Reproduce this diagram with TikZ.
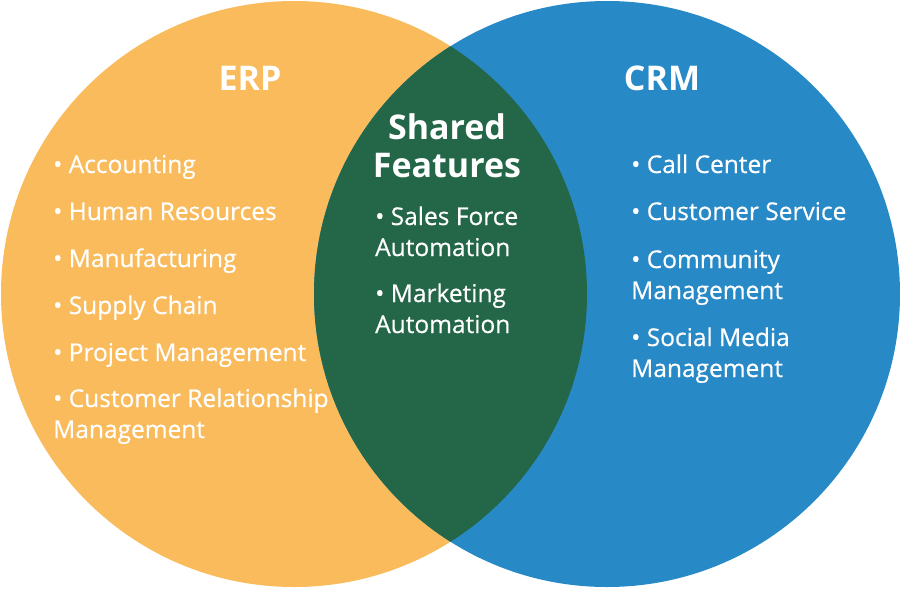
\documentclass[tikz,border=0pt]{standalone}
\usepackage{fontspec}
\setmainfont{Open Sans}
\newfontfamily\itemfont{Open Sans}[FakeBold=0.5]
\usetikzlibrary{positioning}
\definecolor{erporange}{HTML}{F9BB5B}
\definecolor{crmblue}{HTML}{2889C7}
\definecolor{sharedgreen}{HTML}{246648}

\begin{document}
\begin{tikzpicture}[
    x=1pt, y=-1pt,
    head/.style={text=white, font=\fontsize{34}{38}\selectfont\bfseries,
                 align=center, inner sep=0pt},
    item/.style={text=white, font=\itemfont\fontsize{24.5}{31}\selectfont,
                 align=left, anchor=base west, inner sep=0pt}
]
    \useasboundingbox[fill=white] (0,0) rectangle (900,600);

    % the two sets and their overlap
    \coordinate (L) at (294,294);
    \coordinate (R) at (607,294);
    \fill[erporange] (L) circle[radius=293pt];
    \fill[crmblue]   (R) circle[radius=293pt];
    \begin{scope}
        \clip (L) circle[radius=293pt];
        \fill[sharedgreen] (R) circle[radius=293pt];
    \end{scope}

    % headings
    \node[head] (erp)    at (250,78)  {ERP};
    \node[head] (crm)    at (662,78)  {CRM};
    \node[head] (shared) at (447,146) {Shared\\Features};

    % ERP features (base = baseline of the last line)
    \node[item] (acc)    at (53,173) {• Accounting};
    \node[item] (hr)     at (53,220) {• Human Resources};
    \node[item] (mfg)    at (53,267) {• Manufacturing};
    \node[item] (supply) at (53,314) {• Supply Chain};
    \node[item] (pm)     at (53,361) {• Project Management};
    \node[item] (crmgmt) at (53,438) {• Customer Relationship\\Management};

    % shared features
    \node[item] (sfa) at (375,256) {• Sales Force\\Automation};
    \node[item] (mkt) at (375,333) {• Marketing\\Automation};

    % CRM features
    \node[item] (call)      at (631,173) {• Call Center};
    \node[item] (service)   at (631,220) {• Customer Service};
    \node[item] (community) at (631,299) {• Community\\Management};
    \node[item] (social)    at (631,377) {• Social Media\\Management};
\end{tikzpicture}
\end{document}
